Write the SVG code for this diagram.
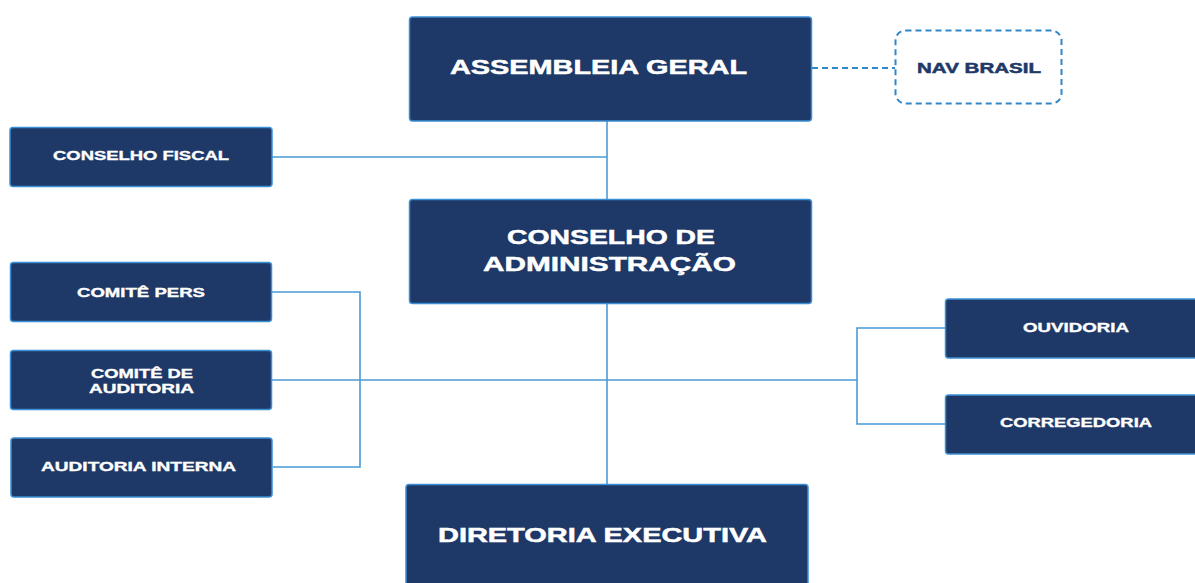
<svg xmlns="http://www.w3.org/2000/svg" width="1195" height="583" viewBox="0 0 1195 583">
<style>
.box{fill:#1e3967;stroke:#3b8fd4;stroke-width:1.5}
.t{font-family:"Liberation Sans",Arial,sans-serif;font-weight:bold;fill:#ffffff;stroke:#ffffff;stroke-width:0.5;text-anchor:start}
.big{font-size:20px}
.sm{font-size:13px;stroke-width:0.35}
.con{fill:none;stroke:#4b9ad6;stroke-width:1.6}
.dash{fill:none;stroke:#2f88cc;stroke-width:2;stroke-dasharray:6 4}
</style>
<rect width="1195" height="583" fill="#ffffff"/>
<g id="connectors">
<path class="con" d="M607 121V200"/>
<path class="con" d="M272 157H607"/>
<path class="con" d="M607 304V485"/>
<path class="con" d="M272 292H360V467H273"/>
<path class="con" d="M272 380H857"/>
<path class="con" d="M945 328H857V424H945"/>
<path class="dash" d="M812 68H895"/>
</g>
<g id="assembleia-geral">
<rect class="box" x="409.5" y="17" width="402" height="104" rx="3"/>
<text class="t big" x="450" y="74" textLength="297" lengthAdjust="spacingAndGlyphs">ASSEMBLEIA GERAL</text>
</g>
<g id="nav-brasil">
<rect class="dash" x="895.5" y="30.5" width="166" height="73" rx="10"/>
<text x="917" y="73" textLength="124" lengthAdjust="spacingAndGlyphs" style="font-family:'Liberation Sans',Arial,sans-serif;font-weight:bold;font-size:15px;fill:#1e3967;stroke:#1e3967;stroke-width:0.5">NAV BRASIL</text>
</g>
<g id="conselho-fiscal">
<rect class="box" x="10" y="127.5" width="262" height="59" rx="3"/>
<text class="t sm" x="53" y="160" textLength="176" lengthAdjust="spacingAndGlyphs">CONSELHO FISCAL</text>
</g>
<g id="conselho-de-administracao">
<rect class="box" x="409.5" y="199.5" width="402" height="104" rx="3"/>
<text class="t" style="font-size:21px" x="507" y="244" textLength="208" lengthAdjust="spacingAndGlyphs">CONSELHO DE</text>
<text class="t" style="font-size:21px" x="483" y="271" textLength="253" lengthAdjust="spacingAndGlyphs">ADMINISTRAÇÃO</text>
</g>
<g id="comite-pers">
<rect class="box" x="10.5" y="262.5" width="261" height="59" rx="3"/>
<text class="t sm" x="77" y="297" textLength="128" lengthAdjust="spacingAndGlyphs">COMITÊ PERS</text>
</g>
<g id="comite-de-auditoria">
<rect class="box" x="10.5" y="350.5" width="261" height="59" rx="3"/>
<text class="t sm" x="91" y="378" textLength="102" lengthAdjust="spacingAndGlyphs">COMITÊ DE</text>
<text class="t sm" x="89" y="393" textLength="105" lengthAdjust="spacingAndGlyphs">AUDITORIA</text>
</g>
<g id="auditoria-interna">
<rect class="box" x="11" y="438" width="261" height="59" rx="3"/>
<text class="t sm" x="41" y="471" textLength="195" lengthAdjust="spacingAndGlyphs">AUDITORIA INTERNA</text>
</g>
<g id="ouvidoria">
<rect class="box" x="945.5" y="299" width="255" height="59" rx="3"/>
<text class="t sm" x="1023" y="332" textLength="106" lengthAdjust="spacingAndGlyphs">OUVIDORIA</text>
</g>
<g id="corregedoria">
<rect class="box" x="945.5" y="395" width="255" height="59" rx="3"/>
<text class="t sm" x="1000" y="427" textLength="152" lengthAdjust="spacingAndGlyphs">CORREGEDORIA</text>
</g>
<g id="diretoria-executiva">
<rect class="box" x="406" y="484.5" width="402" height="110" rx="3"/>
<text class="t" style="font-size:21px" x="438" y="542" textLength="329" lengthAdjust="spacingAndGlyphs">DIRETORIA EXECUTIVA</text>
</g>
</svg>
